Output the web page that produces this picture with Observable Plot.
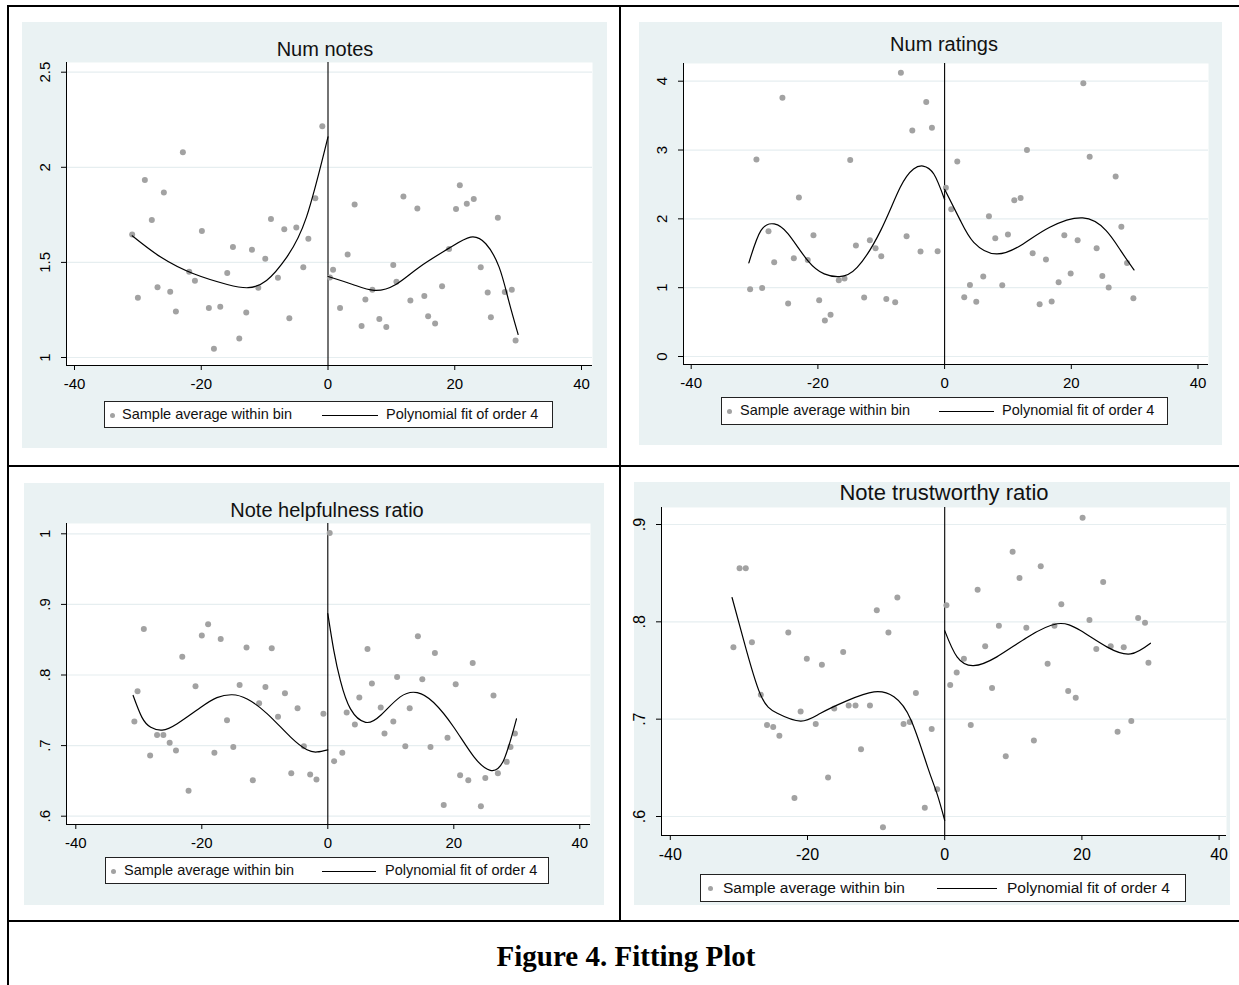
<!DOCTYPE html>
<html><head><meta charset="utf-8">
<script src="https://cdn.jsdelivr.net/npm/d3@7"></script>
<script src="https://cdn.jsdelivr.net/npm/@observablehq/plot@0.6"></script>
<style>
html,body{margin:0;padding:0;background:#fff;}
body{width:1239px;height:985px;position:relative;overflow:hidden;font-family:"Liberation Sans",Arial,sans-serif;}
.abs{position:absolute;}
</style></head><body>
<script>
// ---------- shared ----------
const xTicks = [-40, -20, 0, 20, 40];
const legendDotLabel = "Sample average within bin";
const legendLineLabel = "Polynomial fit of order 4";
const caption = "Figure 4. Fitting Plot";

// ---------- Panel 1: Num notes ----------
const notesTitle = "Num notes";
const notesYTicks = [1, 1.5, 2, 2.5];
const notesYLabels = ["1", "1.5", "2", "2.5"];
const notesLeftX = [-30.9,-30.0,-28.9,-27.8,-26.9,-25.9,-24.9,-24.0,-22.9,-21.9,-21.0,-19.9,-18.8,-18.0,-17.0,-15.9,-15.0,-14.0,-12.9,-12.0,-11.0,-9.9,-9.0,-7.9,-6.9,-6.1,-5.0,-3.9,-3.1,-2.0,-0.9];
const notesLeftY = [1.647,1.314,1.933,1.723,1.370,1.868,1.346,1.242,2.079,1.451,1.404,1.665,1.260,1.046,1.267,1.444,1.581,1.100,1.237,1.567,1.367,1.519,1.728,1.419,1.674,1.207,1.683,1.475,1.625,1.837,2.216];
const notesRightX = [0.3,0.8,1.9,3.1,4.2,5.3,5.9,7.0,8.1,9.2,10.3,10.8,11.9,13.0,14.1,15.2,15.8,16.9,18.0,19.1,20.2,20.8,21.9,23.0,24.1,25.2,25.7,26.8,27.9,29.0,29.6];
const notesRightY = [1.420,1.462,1.260,1.542,1.805,1.165,1.305,1.356,1.202,1.161,1.486,1.398,1.847,1.300,1.784,1.323,1.217,1.179,1.374,1.570,1.781,1.905,1.809,1.833,1.474,1.342,1.212,1.735,1.344,1.356,1.089];
const notesFitLX = [-30.9,-26.4,-21.2,-15.9,-12.6,-9.7,-6.5,-3.4,0];
const notesFitLY = [1.640,1.528,1.440,1.384,1.367,1.405,1.528,1.738,2.160];
const notesFitRX = [0,3.9,7.3,10.7,14.4,19.1,22.5,24.9,27.0,28.5,30.0];
const notesFitRY = [1.426,1.384,1.353,1.384,1.475,1.575,1.633,1.598,1.475,1.300,1.121];

// ---------- Panel 2: Num ratings ----------
const ratingsTitle = "Num ratings";
const ratingsYTicks = [0, 1, 2, 3, 4];
const ratingsYLabels = ["0", "1", "2", "3", "4"];
const ratingsLeftX = [-30.7,-29.7,-28.8,-27.8,-26.9,-25.6,-24.7,-23.8,-23.0,-21.6,-20.7,-19.8,-18.9,-18.0,-16.7,-15.8,-14.9,-14.0,-12.7,-11.8,-10.9,-10.0,-9.2,-7.8,-6.9,-6.0,-5.1,-3.8,-2.9,-2.0,-1.1];
const ratingsLeftY = [0.977,2.864,0.997,1.819,1.369,3.759,0.769,1.427,2.312,1.403,1.761,0.817,0.522,0.605,1.107,1.132,2.855,1.611,0.856,1.688,1.572,1.456,0.837,0.788,4.122,1.746,3.284,1.524,3.697,3.324,1.528];
const ratingsRightX = [0.2,1.05,2.0,3.1,4.0,5.0,6.1,7.0,8.0,9.1,10.0,11.0,12.0,13.0,13.9,15.0,16.0,16.9,18.0,18.9,19.9,21.0,21.9,22.9,24.0,24.9,25.9,27.0,27.9,28.8,29.8];
const ratingsRightY = [2.453,2.138,2.835,0.861,1.040,0.794,1.161,2.036,1.717,1.035,1.771,2.269,2.303,3.000,1.500,0.759,1.408,0.798,1.078,1.761,1.205,1.688,3.972,2.903,1.572,1.171,1.001,2.617,1.887,1.360,0.846];
const ratingsFitLX = [-30.9,-29.0,-26.9,-24.7,-21.6,-19.0,-16.6,-13.8,-10.1,-7.0,-4.9,-3.4,-1.7,0];
const ratingsFitLY = [1.36,1.829,1.926,1.781,1.393,1.200,1.161,1.296,1.829,2.458,2.724,2.767,2.651,2.280];
const ratingsFitRX = [0,2.5,4.6,8.2,12.4,16.6,21.8,25.5,27.8,29.9];
const ratingsFitRY = [2.430,1.974,1.659,1.490,1.636,1.877,2.013,1.829,1.538,1.258];

// ---------- Panel 3: Note helpfulness ratio ----------
const helpTitle = "Note helpfulness ratio";
const helpYTicks = [0.6, 0.7, 0.8, 0.9, 1];
const helpYLabels = [".6", ".7", ".8", ".9", "1"];
const helpLeftX = [-30.7,-30.2,-29.2,-28.2,-27.1,-26.1,-25.1,-24.1,-23.1,-22.1,-21.0,-20.0,-19.0,-18.0,-17.0,-16.0,-15.0,-14.0,-12.9,-11.9,-10.9,-9.9,-8.9,-7.9,-6.8,-5.8,-4.8,-3.8,-2.8,-1.8,-0.7];
const helpLeftY = [0.734,0.777,0.865,0.686,0.715,0.715,0.704,0.693,0.826,0.636,0.784,0.856,0.872,0.690,0.851,0.736,0.698,0.786,0.839,0.651,0.760,0.783,0.838,0.741,0.774,0.661,0.753,0.699,0.659,0.652,0.745];
const helpRightX = [0.3,1.0,2.3,3.0,4.3,5.0,6.3,7.0,8.4,9.0,10.4,11.0,12.3,13.0,14.3,15.0,16.3,17.0,18.4,19.0,20.3,21.0,22.3,23.0,24.3,25.0,26.3,27.0,28.4,29.0,29.7];
const helpRightY = [1.001,0.678,0.690,0.747,0.730,0.768,0.837,0.788,0.754,0.717,0.734,0.797,0.699,0.753,0.855,0.794,0.698,0.831,0.616,0.711,0.787,0.658,0.651,0.817,0.614,0.654,0.771,0.661,0.677,0.698,0.717];
const helpFitLX = [-30.9,-29.5,-28.1,-26.3,-23.9,-20.2,-17.6,-15.2,-12.8,-9.6,-5.9,-3.3,-1.7,0];
const helpFitLY = [0.771,0.740,0.726,0.722,0.731,0.754,0.768,0.772,0.766,0.745,0.712,0.694,0.691,0.694];
const helpFitRX = [0,0.95,2.0,3.6,6.0,8.4,11.5,14.2,16.8,20.0,23.2,25.8,27.9,29.95];
const helpFitRY = [0.887,0.835,0.792,0.752,0.733,0.743,0.769,0.775,0.761,0.726,0.684,0.665,0.679,0.738];

// ---------- Panel 4: Note trustworthy ratio ----------
const trustTitle = "Note trustworthy ratio";
const trustYTicks = [0.6, 0.7, 0.8, 0.9];
const trustYLabels = [".6", ".7", ".8", ".9"];
const trustLeftX = [-30.8,-29.9,-29.0,-28.1,-26.8,-25.9,-25.0,-24.1,-22.8,-21.9,-21.0,-20.1,-18.8,-17.9,-17.0,-16.1,-14.8,-14.0,-13.0,-12.2,-10.9,-9.9,-9.0,-8.2,-6.9,-6.0,-5.1,-4.2,-2.9,-1.9,-1.1];
const trustLeftY = [0.774,0.855,0.855,0.779,0.725,0.694,0.692,0.683,0.789,0.619,0.708,0.762,0.695,0.756,0.640,0.711,0.769,0.714,0.714,0.669,0.714,0.812,0.589,0.789,0.825,0.695,0.697,0.727,0.609,0.690,0.628];
const trustRightX = [0.25,0.8,1.75,2.8,3.8,4.8,5.9,6.9,7.9,8.9,9.9,10.9,11.9,13.0,14.0,15.0,16.0,17.0,18.0,19.1,20.1,21.1,22.1,23.1,24.2,25.2,26.1,27.2,28.2,29.2,29.7];
const trustRightY = [0.817,0.735,0.748,0.762,0.694,0.833,0.775,0.732,0.796,0.662,0.872,0.845,0.794,0.678,0.857,0.757,0.796,0.818,0.729,0.722,0.907,0.802,0.772,0.841,0.775,0.687,0.774,0.698,0.804,0.799,0.758];
const trustFitLX = [-31.0,-29.3,-26.9,-24.4,-21.0,-18.1,-14.2,-10.3,-7.4,-4.9,-2.5,-1.1,0];
const trustFitLY = [0.825,0.781,0.726,0.706,0.698,0.706,0.719,0.728,0.723,0.699,0.651,0.623,0.596];
const trustFitRX = [0,1.8,4.2,7.6,12.0,16.4,19.8,23.7,27.1,30.0];
const trustFitRY = [0.791,0.764,0.755,0.764,0.784,0.798,0.791,0.774,0.767,0.778];

// ---------- styling ----------
const BG = "#eaf2f3";
const GRID = "#e6eef0";
const DOT = "#a2a2a2";

const zip = (xs, ys) => xs.map((x, i) => ({x, y: ys[i]}));

function el(tag, css, text) {
  const e = document.createElement(tag);
  e.className = "abs";
  Object.assign(e.style, css);
  if (text != null) e.textContent = text;
  document.body.appendChild(e);
  return e;
}

function panel(cfg) {
  const {bg, plot, xcal, ycal, title, tfs, tTop, tCx, fs, yTicks, yLabels, data, legend} = cfg;
  el("div", {left: bg[0] + "px", top: bg[1] + "px", width: (bg[2] - bg[0]) + "px", height: (bg[3] - bg[1]) + "px", background: BG});
  el("div", {left: (tCx - 300) + "px", top: tTop + "px", width: "600px", textAlign: "center", fontSize: tfs + "px", lineHeight: "1", color: "#111", whiteSpace: "nowrap"}, title);

  const [L, T, R, B] = plot;
  const kx = (xcal[3] - xcal[1]) / (xcal[2] - xcal[0]);
  const xmin = xcal[0] + (L - xcal[1]) / kx, xmax = xcal[0] + (R - xcal[1]) / kx;
  const ky = (ycal[3] - ycal[1]) / (ycal[2] - ycal[0]);
  const ymin = ycal[0] + (B - ycal[1]) / ky, ymax = ycal[0] + (T - ycal[1]) / ky;
  const ml = 60, mt = 10, mr = 12, mb = 40;

  const svg = Plot.plot({
    width: (R - L) + ml + mr,
    height: (B - T) + mt + mb,
    marginLeft: ml, marginTop: mt, marginRight: mr, marginBottom: mb,
    style: {background: "transparent", fontFamily: "'Liberation Sans', Arial, sans-serif", fontSize: fs + "px", color: "#000", overflow: "visible"},
    x: {domain: [xmin, xmax], ticks: xTicks, tickSize: 5, tickPadding: 8, tickFormat: d => String(d), label: null},
    y: {domain: [ymin, ymax], ticks: yTicks, tickSize: 5, tickPadding: 12, tickRotate: -90, tickFormat: d => yLabels[yTicks.indexOf(d)], label: null},
    marks: [
      Plot.frame({fill: "white", stroke: null}),
      Plot.gridY(yTicks, {stroke: GRID, strokeOpacity: 1, strokeWidth: 1.2}),
      Plot.ruleX([0], {stroke: "#000", strokeWidth: 1.1}),
      Plot.dot(zip(data.lx, data.ly), {x: "x", y: "y", r: 3, fill: DOT, stroke: null}),
      Plot.dot(zip(data.rx, data.ry), {x: "x", y: "y", r: 3, fill: DOT, stroke: null}),
      Plot.line(zip(data.flx, data.fly), {x: "x", y: "y", curve: "natural", stroke: "#000", strokeWidth: 1.2}),
      Plot.line(zip(data.frx, data.fry), {x: "x", y: "y", curve: "natural", stroke: "#000", strokeWidth: 1.2}),
      Plot.ruleX([xmin], {stroke: "#000", strokeWidth: 1}),
      Plot.ruleY([ymin], {stroke: "#000", strokeWidth: 1})
    ]
  });
  svg.classList.add("abs");
  svg.style.left = (L - ml) + "px";
  svg.style.top = (T - mt) + "px";
  document.body.appendChild(svg);

  const [bx, by, bw, bh] = legend.box;
  el("div", {left: bx + "px", top: by + "px", width: (bw - 2) + "px", height: (bh - 2) + "px", background: "#fff", border: "1px solid #222"});
  const cy = Math.round(by + bh / 2);
  el("div", {left: (legend.dot - 2.5) + "px", top: (cy - 2.5) + "px", width: "5px", height: "5px", borderRadius: "50%", background: DOT});
  el("div", {left: legend.t1 + "px", top: (cy - legend.fs * 0.58) + "px", fontSize: legend.fs + "px", lineHeight: "1.1", color: "#111", whiteSpace: "nowrap"}, legendDotLabel);
  el("div", {left: legend.l1 + "px", top: cy + "px", width: (legend.l2 - legend.l1) + "px", height: "1px", background: "#000"});
  el("div", {left: legend.t2 + "px", top: (cy - legend.fs * 0.58) + "px", fontSize: legend.fs + "px", lineHeight: "1.1", color: "#111", whiteSpace: "nowrap"}, legendLineLabel);
}

panel({
  bg: [22, 22, 607, 448], plot: [66, 62, 592, 365],
  xcal: [-40, 74, 40, 581], ycal: [1, 357, 2.5, 71.7],
  title: notesTitle, tfs: 20, tTop: 39, tCx: 325, fs: 15,
  yTicks: notesYTicks, yLabels: notesYLabels,
  data: {lx: notesLeftX, ly: notesLeftY, rx: notesRightX, ry: notesRightY, flx: notesFitLX, fly: notesFitLY, frx: notesFitRX, fry: notesFitRY},
  legend: {box: [104, 401, 449, 27], dot: 112, t1: 122, l1: 322, l2: 378, t2: 386, fs: 14.5}
});
panel({
  bg: [639, 22, 1222, 445], plot: [683, 63, 1208, 364],
  xcal: [-40, 690.7, 40, 1197.5], ycal: [0, 356, 4, 80.7],
  title: ratingsTitle, tfs: 20, tTop: 34, tCx: 944, fs: 15,
  yTicks: ratingsYTicks, yLabels: ratingsYLabels,
  data: {lx: ratingsLeftX, ly: ratingsLeftY, rx: ratingsRightX, ry: ratingsRightY, flx: ratingsFitLX, fly: ratingsFitLY, frx: ratingsFitRX, fry: ratingsFitRY},
  legend: {box: [721, 397, 447, 28], dot: 729, t1: 740, l1: 939, l2: 994, t2: 1002, fs: 14.5}
});
panel({
  bg: [24, 483, 604, 905], plot: [66, 523, 590, 824],
  xcal: [-40, 75.3, 40, 579.3], ycal: [0.6, 815.7, 1, 533.3],
  title: helpTitle, tfs: 20, tTop: 500, tCx: 327, fs: 15,
  yTicks: helpYTicks, yLabels: helpYLabels,
  data: {lx: helpLeftX, ly: helpLeftY, rx: helpRightX, ry: helpRightY, flx: helpFitLX, fly: helpFitLY, frx: helpFitRX, fry: helpFitRY},
  legend: {box: [105, 857, 444, 27], dot: 113, t1: 124, l1: 322, l2: 376, t2: 385, fs: 14.5}
});
panel({
  bg: [634, 482, 1230, 905], plot: [661, 507, 1226, 835],
  xcal: [-40, 669.8, 40, 1218.6], ycal: [0.6, 816, 0.9, 524],
  title: trustTitle, tfs: 22, tTop: 482, tCx: 944, fs: 16,
  yTicks: trustYTicks, yLabels: trustYLabels,
  data: {lx: trustLeftX, ly: trustLeftY, rx: trustRightX, ry: trustRightY, flx: trustFitLX, fly: trustFitLY, frx: trustFitRX, fry: trustFitRY},
  legend: {box: [700, 874, 486, 28], dot: 710, t1: 723, l1: 937, l2: 997, t2: 1007, fs: 15.5}
});

// table borders
const line = (x, y, w, h) => el("div", {left: x + "px", top: y + "px", width: w + "px", height: h + "px", background: "#000"});
line(7, 5, 1232, 2);
line(7, 5, 2, 980);
line(619, 5, 2, 917);
line(7, 465, 1232, 2);
line(7, 920, 1232, 2);

// caption
el("div", {left: "8px", top: "942px", width: "1236px", textAlign: "center", fontFamily: "'Liberation Serif','Times New Roman',serif", fontWeight: "bold", fontSize: "29px", lineHeight: "1", color: "#000"}, caption);
</script>
</body></html>
